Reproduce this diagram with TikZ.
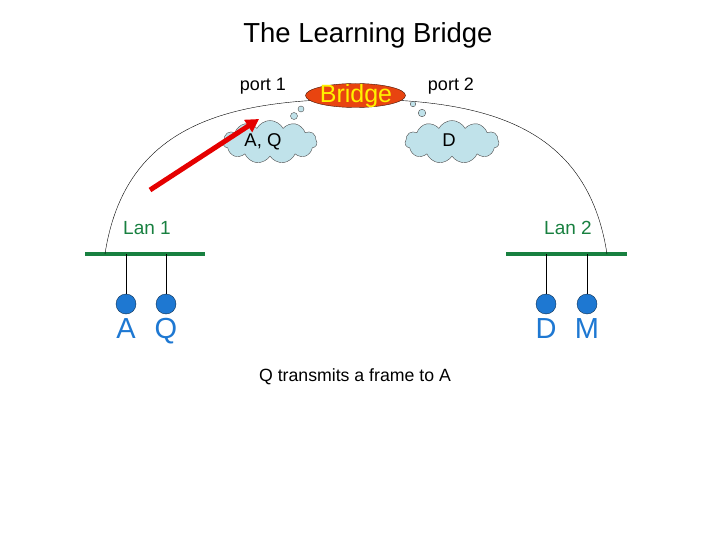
\documentclass[tikz,border=0pt]{standalone}
\usepackage{fontspec}
\setmainfont{Liberation Sans}
\usetikzlibrary{shapes.geometric,shapes.symbols,arrows.meta}

\definecolor{langreen}{RGB}{24,128,64}
\definecolor{stationblue}{RGB}{30,120,210}
\definecolor{cloudblue}{RGB}{192,226,234}
\definecolor{bridgered}{RGB}{232,68,16}

\tikzstyle{lanbar}=[
    draw=langreen,
    line width=4pt,
  ]
\tikzstyle{station}=[
    circle,
    draw=black!60!stationblue,
    fill=stationblue,
    minimum size=20pt,
    inner sep=0pt,
  ]
\tikzstyle{memory}=[
    cloud,
    cloud puffs=11,
    cloud puff arc=125,
    draw=black!70,
    fill=cloudblue,
    minimum width=94pt,
    minimum height=43pt,
  ]
\tikzstyle{bubble}=[
    circle,
    draw=black!70,
    fill=cloudblue,
    inner sep=0pt,
  ]
\tikzstyle{learn}=[
    -{Triangle[length=13pt,width=14pt]},
    line width=5pt,
    draw=red!90!black,
  ]
\tikzstyle{label}=[
    anchor=base,
    inner sep=0pt,
  ]

\begin{document}
\begin{tikzpicture}[x=1pt,y=-1pt]
      \useasboundingbox (0,0) rectangle (720,540);
      \node[label] (title) at (368,43) {\fontsize{27.5}{30}\selectfont The Learning Bridge};
      % the two LANs
      \draw[lanbar] (85,254) coordinate (lan1w) -- (205,254) coordinate (lan1e);
      \draw[lanbar] (506,254) coordinate (lan2w) -- (627,254) coordinate (lan2e);
      \node[label, text=langreen] (lan1) at (147,234) {\fontsize{19}{22}\selectfont Lan 1};
      \node[label, text=langreen] (lan2) at (568,234) {\fontsize{19}{22}\selectfont Lan 2};
      \coordinate (tap1) at (105,254);
      \coordinate (tap2) at (607,254);
      % the bridge with its two ports
      \draw (tap1) .. controls (125,123) and (230,100) .. (356,99)
                   .. controls (482,100) and (587,123) .. (tap2);
      \node[ellipse, draw=black!70!bridgered, fill=bridgered,
            minimum width=100pt, minimum height=24pt, inner sep=0pt]
            (bridge) at (355.5,95.5) {};
      \node[label, text=yellow] (bridgename) at (356,103) {\fontsize{25}{28}\selectfont Bridge};
      \node[label] (port1) at (263,91) {\fontsize{18}{21}\selectfont port 1};
      \node[label] (port2) at (451,91) {\fontsize{18}{21}\selectfont port 2};
      % what the bridge has learned
      \node[memory] (table1) at (270,142) {};
      \node[memory] (table2) at (452,142) {};
      \node[label] (known1) at (263,147) {\fontsize{18.5}{21}\selectfont A, Q};
      \node[label] (known2) at (449,147) {\fontsize{18.5}{21}\selectfont D};
      \node[bubble, minimum size=6pt] (b1) at (301,109) {};
      \node[bubble, minimum size=7pt] (b2) at (294,116) {};
      \node[bubble, minimum size=5.5pt] (b3) at (413,104) {};
      \node[bubble, minimum size=7.5pt] (b4) at (422,113) {};
      % stations
      \foreach \s/\x in {A/126, Q/166, D/546, M/587} {%
        \node[station] (\s) at (\x,304) {};
        \draw[line width=1pt] (\x,254) -- (\s);
        \node[label, text=stationblue] (name\s) at (\x,338) {\fontsize{29}{32}\selectfont \s};
      }
      \coordinate (from) at (150,190);
      \coordinate (to) at (259,119);
      \draw[learn] (from) -- (to);
      \node[label] (caption) at (355,381) {\fontsize{17.7}{20}\selectfont Q transmits a frame to A};
    \end{tikzpicture}
\end{document}
